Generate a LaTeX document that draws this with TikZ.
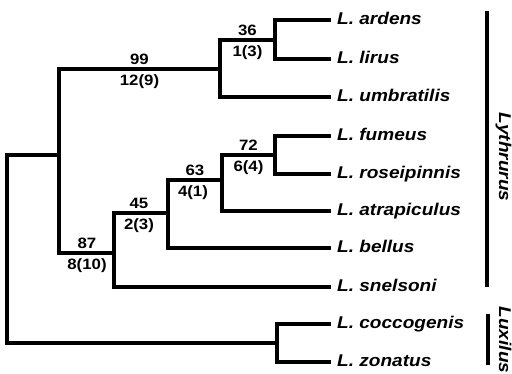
\documentclass[tikz,border=0pt]{standalone}
\usepackage{fontspec}
\setmainfont{Liberation Sans}[FakeStretch=1.12]
\begin{document}
\begin{tikzpicture}[x=1pt,y=-1pt,
  branch/.style={line width=3.2pt,line join=miter},
  clade/.style={line width=3.8pt},
  taxon/.style={anchor=base west,inner sep=0pt,xshift=6pt,yshift=-4.5pt,
    font=\fontsize{17}{17}\selectfont\bfseries\itshape},
  support/.style={anchor=base,inner sep=0pt,yshift=4.5pt,
    font=\fontsize{15}{15}\selectfont\bfseries},
  decay/.style={anchor=base,inner sep=0pt,yshift=-16.5pt,
    font=\fontsize{15}{15}\selectfont\bfseries},
  group/.style={anchor=base,inner sep=0pt,rotate=-90,
    font=\fontsize{17}{17}\selectfont\bfseries\itshape}]
\useasboundingbox (0,0) rectangle (512,374);

% internal nodes
\coordinate (root) at (7,249);
\coordinate (nA) at (59,155);
\coordinate (nB) at (220,69);
\coordinate (nC) at (275,40);
\coordinate (nD) at (114,253);
\coordinate (nE) at (168,213);
\coordinate (nF) at (222,180);
\coordinate (nG) at (275,155);
\coordinate (nH) at (277,343);

% tips
\coordinate (ardens) at (331,20);
\coordinate (lirus) at (331,59);
\coordinate (umbratilis) at (331,97);
\coordinate (fumeus) at (331,136);
\coordinate (roseipinnis) at (331,174);
\coordinate (atrapiculus) at (331,211);
\coordinate (bellus) at (331,248);
\coordinate (snelsoni) at (331,287);
\coordinate (coccogenis) at (331,324);
\coordinate (zonatus) at (331,362);

% branches
\draw[branch] (root) |- (nA);
\draw[branch] (root) |- (nH);
\draw[branch] (nA) |- (nB);
\draw[branch] (nA) |- (nD);
\draw[branch] (nB) |- (nC);
\draw[branch] (nB) |- (umbratilis);
\draw[branch] (nC) |- (ardens);
\draw[branch] (nC) |- (lirus);
\draw[branch] (nD) |- (nE);
\draw[branch] (nD) |- (snelsoni);
\draw[branch] (nE) |- (nF);
\draw[branch] (nE) |- (bellus);
\draw[branch] (nF) |- (nG);
\draw[branch] (nF) |- (atrapiculus);
\draw[branch] (nG) |- (fumeus);
\draw[branch] (nG) |- (roseipinnis);
\draw[branch] (nH) |- (coccogenis);
\draw[branch] (nH) |- (zonatus);

% species names
\node[taxon] (l-ardens) at (ardens) {L. ardens};
\node[taxon] (l-lirus) at (lirus) {L. lirus};
\node[taxon] (l-umbratilis) at (umbratilis) {L. umbratilis};
\node[taxon] (l-fumeus) at (fumeus) {L. fumeus};
\node[taxon] (l-roseipinnis) at (roseipinnis) {L. roseipinnis};
\node[taxon] (l-atrapiculus) at (atrapiculus) {L. atrapiculus};
\node[taxon] (l-bellus) at (bellus) {L. bellus};
\node[taxon] (l-snelsoni) at (snelsoni) {L. snelsoni};
\node[taxon] (l-coccogenis) at (coccogenis) {L. coccogenis};
\node[taxon] (l-zonatus) at (zonatus) {L. zonatus};

% bootstrap values and decay indices
\node[support] (s-B) at (139.5,69) {99};
\node[decay]   (d-B) at (139.5,69) {12(9)};
\node[support] (s-C) at (247.5,40) {36};
\node[decay]   (d-C) at (247.5,40) {1(3)};
\node[support] (s-D) at (87,253) {87};
\node[decay]   (d-D) at (87,253) {8(10)};
\node[support] (s-E) at (139,213) {45};
\node[decay]   (d-E) at (139,213) {2(3)};
\node[support] (s-F) at (195,180) {63};
\node[decay]   (d-F) at (193,180) {4(1)};
\node[support] (s-G) at (248.5,155) {72};
\node[decay]   (d-G) at (248.5,155) {6(4)};

% genus brackets
\coordinate (lyth-top) at (487,11);
\coordinate (lyth-bot) at (487,287);
\coordinate (lux-top) at (488,314);
\coordinate (lux-bot) at (488,365);
\draw[clade] (lyth-top) -- (lyth-bot);
\draw[clade] (lux-top) -- (lux-bot);
\node[group] (g-lyth) at (499,157) {Lythrurus};
\node[group] (g-lux) at (499,340) {Luxilus};
\end{tikzpicture}
\end{document}
